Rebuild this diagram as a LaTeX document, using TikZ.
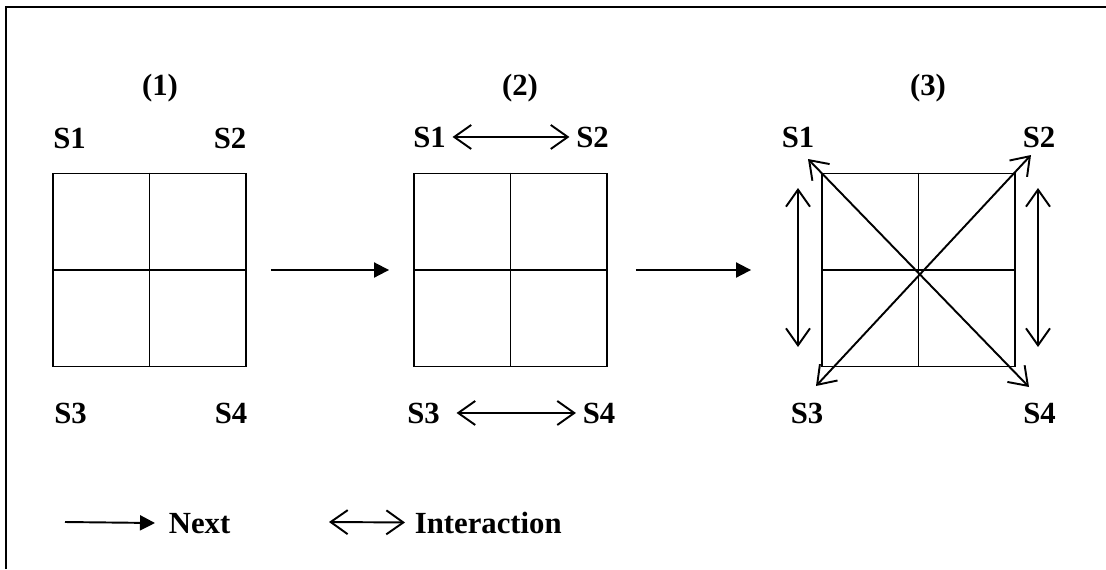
\documentclass[tikz,border=0pt]{standalone}
\usepackage{fontspec}
\setmainfont{Liberation Serif}
\usetikzlibrary{arrows.meta}

\begin{document}
\begin{tikzpicture}[
        x=0.02cm, y=-0.02cm,
        line width=1.1pt,
        lbl/.style={anchor=base, font=\fontsize{17.5}{20}\selectfont\bfseries},
        cellbox/.style={rectangle, draw, minimum width=3.86cm, minimum height=3.86cm, inner sep=0pt},
        nextarrow/.style={-{Triangle[length=0.3cm,width=0.3cm]}},
        interarrow/.style={{Straight Barb[length=0.34cm,width=0.48cm]}-{Straight Barb[length=0.34cm,width=0.48cm]}}
    ]
        \useasboundingbox (0,0) rectangle (1106,569);
        % Frame
        \draw (6,569) -- (6,7) -- (1106,7);

        % Stage 1
        \node[lbl] (t1) at (160,95) {(1)};
        \node[cellbox] (sq1) at (149.5,270) {};
        \draw (sq1.north) -- (sq1.south);
        \draw (sq1.west) -- (sq1.east);
        \node[lbl] (a1) at (69.5,148) {S1};
        \node[lbl] (a2) at (230,148) {S2};
        \node[lbl] (a3) at (70.5,423) {S3};
        \node[lbl] (a4) at (231,423) {S4};

        % Stage 2
        \node[lbl] (t2) at (520,95) {(2)};
        \node[cellbox] (sq2) at (510.5,270) {};
        \draw (sq2.north) -- (sq2.south);
        \draw (sq2.west) -- (sq2.east);
        \node[lbl] (b1) at (429.5,147) {S1};
        \node[lbl] (b2) at (592.5,147) {S2};
        \node[lbl] (b3) at (423.5,423) {S3};
        \node[lbl] (b4) at (599,423) {S4};
        \draw[interarrow] (b1) -- (b2);
        \draw[interarrow, shorten <=0.2cm] (b3) -- (b4);

        % Stage 3
        \node[lbl] (t3) at (928,95) {(3)};
        \node[cellbox] (sq3) at (918.5,270) {};
        \draw (sq3.north) -- (sq3.south);
        \draw (sq3.west) -- (sq3.east);
        \node[lbl] (c1) at (798,147) {S1};
        \node[lbl] (c2) at (1039,147) {S2};
        \node[lbl] (c3) at (807,423) {S3};
        \node[lbl] (c4) at (1039.5,423) {S4};
        \coordinate (d1) at (808,159);
        \coordinate (d2) at (1031,155);
        \coordinate (d3) at (816,386);
        \coordinate (d4) at (1029,387);
        \coordinate (l1) at (798,188);
        \coordinate (l3) at (798,347);
        \coordinate (r2) at (1038,188);
        \coordinate (r4) at (1038,347);
        \draw[interarrow] (d1) -- (d4);
        \draw[interarrow] (d2) -- (d3);
        \draw[interarrow] (l1) -- (l3);
        \draw[interarrow] (r2) -- (r4);

        % Steps
        \draw[nextarrow, shorten <=0.48cm, shorten >=0.48cm] (sq1) -- (sq2);
        \draw[nextarrow, shorten <=0.56cm, shorten >=1.4cm] (sq2) -- (sq3);

        % Legend
        \coordinate (legA) at (65,522);
        \coordinate (legB) at (329,522);
        \node[lbl, anchor=base west] (legNext) at (162,533) {Next};
        \node[lbl, anchor=base west] (legInter) at (408,533) {Interaction};
        \draw[nextarrow, shorten >=0.14cm] (legA) -- (legNext.west);
        \draw[interarrow, shorten >=0.06cm] (legB) -- (legInter.west);
    \end{tikzpicture}
\end{document}
